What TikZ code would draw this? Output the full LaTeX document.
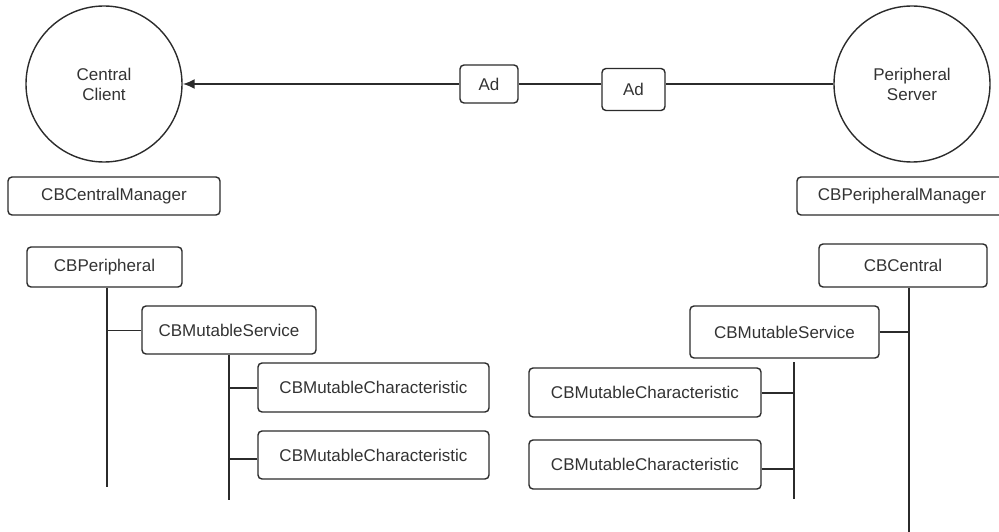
\documentclass[tikz,border=0pt]{standalone}
\usepackage{fontspec}
\setmainfont{Liberation Sans}
\usetikzlibrary{arrows.meta}
\definecolor{ink}{HTML}{2B2B2B}
\definecolor{label}{HTML}{333333}
\begin{document}
\begin{tikzpicture}[x=1pt,y=-1pt,
  box/.style={draw=ink, line width=1.4pt, rounded corners=4pt, text=label,
    inner sep=0pt, font=\fontsize{17}{20}\selectfont},
  actor/.style={circle, draw=ink, line width=1.4pt, minimum size=156pt,
    inner sep=0pt, text=label, align=center, font=\fontsize{17}{20}\selectfont},
  wire/.style={draw=ink, line width=2pt},
  thinwire/.style={draw=ink, line width=1pt}]
\useasboundingbox (0,0) rectangle (999,532);

% the two devices and the advertisement path
\node[actor] (client) at (104,84) {Central\\Client};
\node[actor] (server) at (912,84) {Peripheral\\Server};
\node[box, minimum width=58pt, minimum height=38pt] (ad1) at (489,84) {Ad};
\node[box, minimum width=63pt, minimum height=42pt] (ad2) at (633.5,89.5) {Ad};
\draw[wire] (server.west) -- (server.west -| ad2.east);
\draw[wire] (client.east -| ad2.west) -- (ad1.east);
\draw[wire, -{Latex[length=12pt,width=10pt]}] (ad1.west) -- (client.east);

% managers
\node[box, minimum width=212pt, minimum height=38pt] (cmgr) at (114,196) {CBCentralManager};
\node[box, minimum width=210pt, minimum height=38pt] (pmgr) at (902,196) {CBPeripheralManager};

% central side tree
\node[box, minimum width=155pt, minimum height=40pt] (per) at (104.5,267) {CBPeripheral};
\node[box, minimum width=174pt, minimum height=48pt] (svcL) at (229,330) {CBMutableService};
\node[box, minimum width=231pt, minimum height=49pt] (chL1) at (373.5,387.5) {CBMutableCharacteristic};
\node[box, minimum width=231pt, minimum height=48pt] (chL2) at (373.5,455) {CBMutableCharacteristic};
\coordinate (pBus) at (107,487);
\coordinate (sBus) at (229,500);
\draw[wire] (pBus |- per.south) -- (pBus);
\draw[thinwire] (svcL.west) -- (svcL.west -| pBus);
\draw[wire] (svcL.south) -- (sBus);
\draw[wire] (chL1.west) -- (chL1.west -| sBus);
\draw[wire] ([yshift=-4pt]chL2.west) -- ([yshift=-4pt]chL2.west -| sBus);

% peripheral side tree
\node[box, minimum width=168pt, minimum height=43pt] (cen) at (903,265.5) {CBCentral};
\node[box, minimum width=189pt, minimum height=52pt] (svcR) at (784.5,332) {CBMutableService};
\node[box, minimum width=232pt, minimum height=49pt] (chR1) at (645,392.5) {CBMutableCharacteristic};
\node[box, minimum width=232pt, minimum height=49pt] (chR2) at (645,464.5) {CBMutableCharacteristic};
\coordinate (cBus) at (909,532);
\coordinate (rTop) at (794,362);
\coordinate (rBus) at (794,499);
\draw[wire] (cBus |- cen.south) -- (cBus);
\draw[wire] (svcR.east) -- (svcR.east -| cBus);
\draw[wire] (rTop) -- (rBus);
\draw[wire] (chR1.east) -- (chR1.east -| rBus);
\draw[wire] ([yshift=-4pt]chR2.east) -- ([yshift=-4pt]chR2.east -| rBus);
\end{tikzpicture}
\end{document}
